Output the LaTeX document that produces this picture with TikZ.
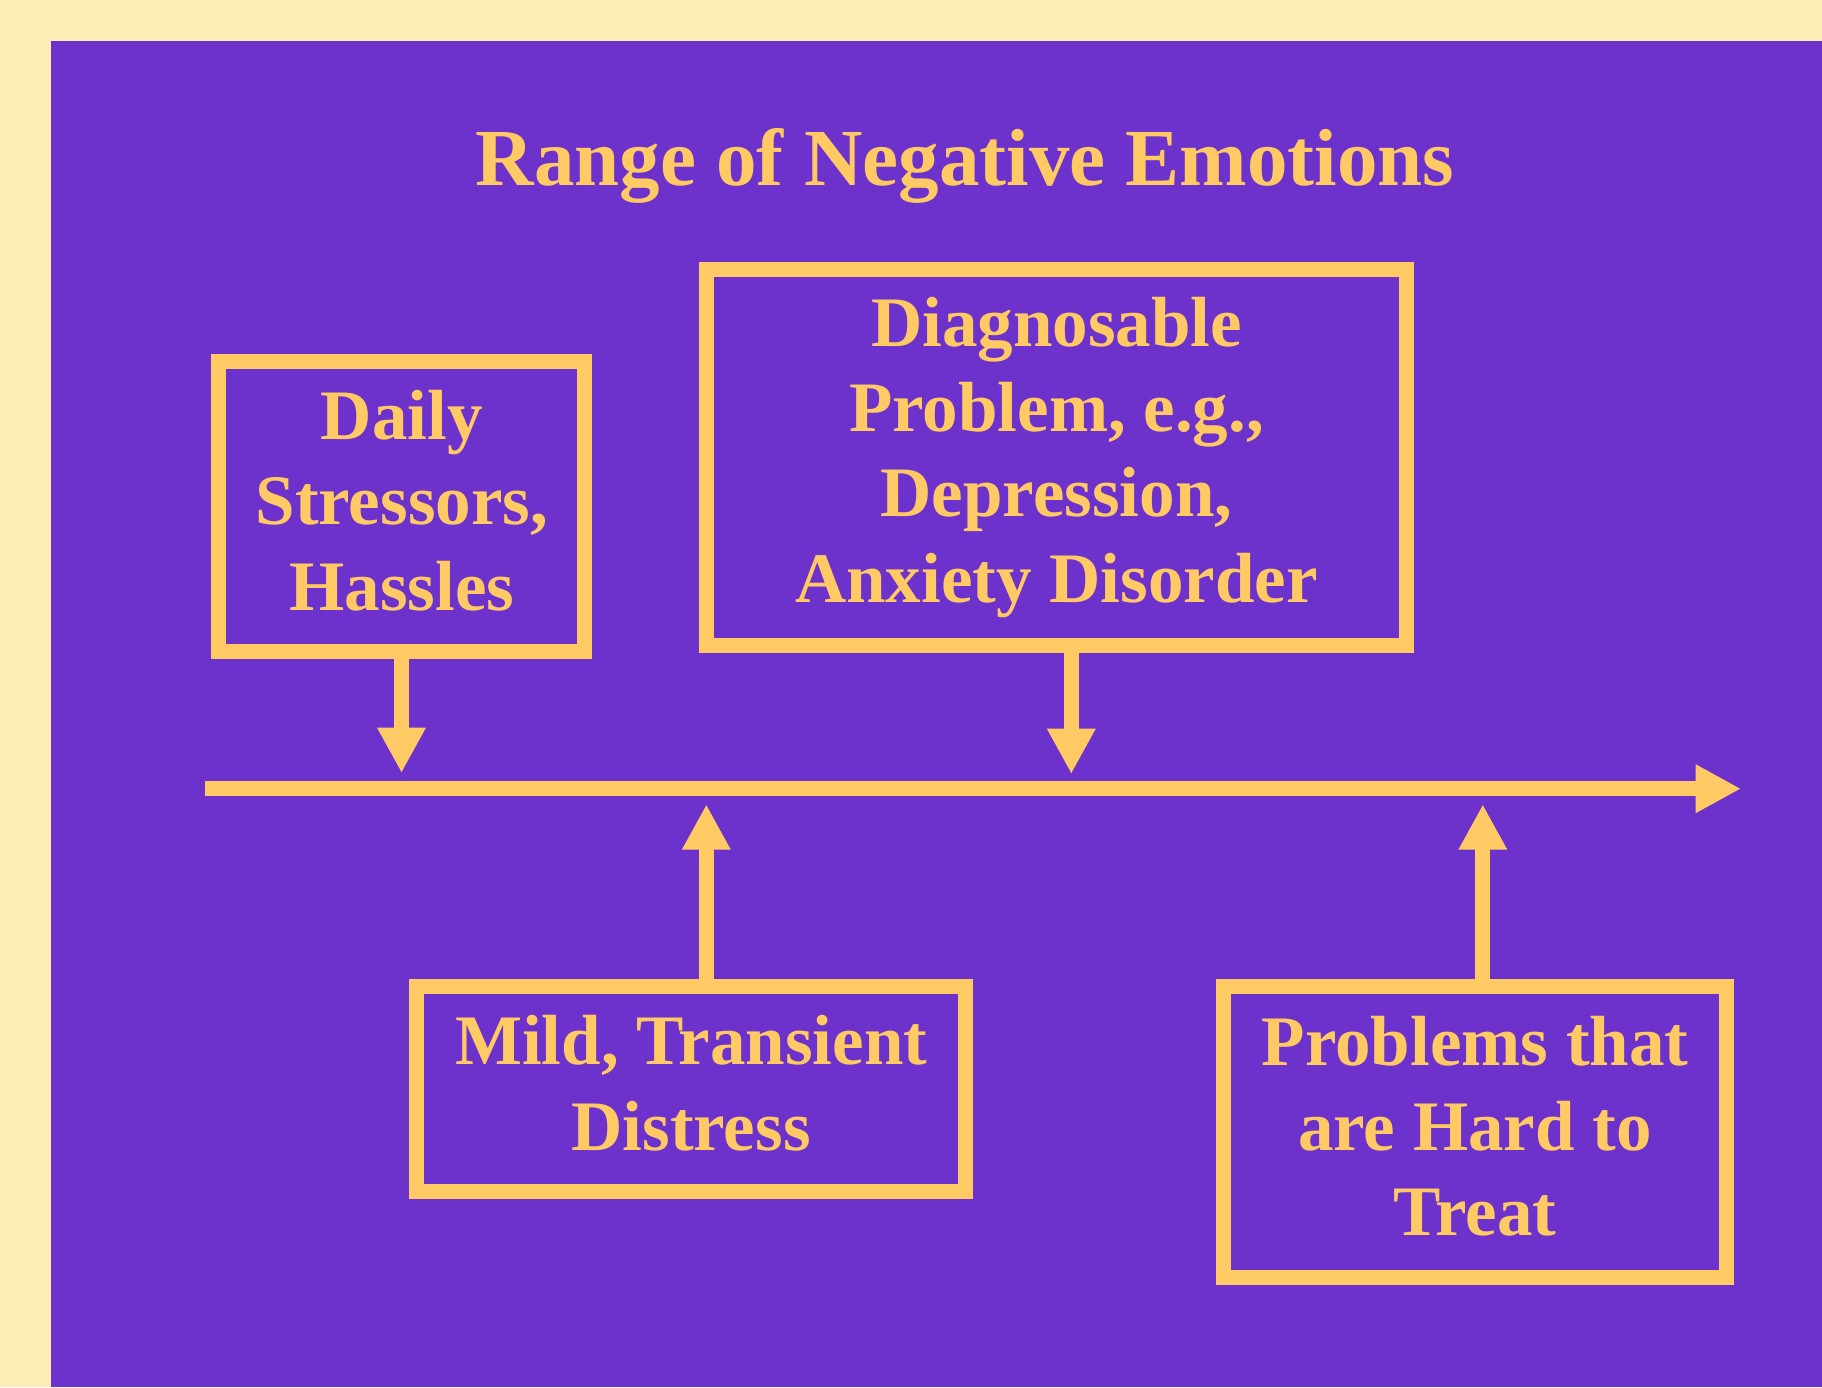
\documentclass[tikz,border=0pt]{standalone}
\usepackage{fontspec}
\setmainfont{Liberation Serif}
\usetikzlibrary{arrows.meta}
\definecolor{bgc}{RGB}{255,237,184}
\definecolor{pur}{RGB}{110,50,204}
\definecolor{gold}{RGB}{255,202,100}
\begin{document}
\begin{tikzpicture}[x=1pt,y=-1pt,
  box/.style={draw=gold, line width=15pt, inner sep=0pt},
  boxtext/.style={text=gold, font=\fontsize{71}{85.3}\selectfont\bfseries, align=center, inner sep=0pt},
  arr/.style={draw=gold, line width=15pt, -{Triangle[width=45.4pt,length=45.4pt]}}]
\fill[bgc] (0,0) rectangle (1822,1387);
\fill[pur] (51,41) rectangle (1822,1387);
\useasboundingbox (0,0) rectangle (1822,1387);
\node[text=gold, font=\fontsize{81}{95}\selectfont\bfseries, anchor=base] (title) at (965,185) {Range of Negative Emotions};
\node[box, minimum width=366pt, minimum height=290.6pt] (daily) at (401.8,506.5) {};
\node[boxtext, yshift=6pt] (dailyt) at (daily.center) {Daily\\Stressors,\\Hassles};
\node[box, minimum width=700.9pt, minimum height=376pt] (diag) at (1056.5,457.8) {};
\node[boxtext, yshift=0.5pt] (diagt) at (diag.center) {Diagnosable\\Problem, e.g.,\\Depression,\\Anxiety Disorder};
\node[box, minimum width=548.8pt, minimum height=205pt] (mild) at (691.1,1089.3) {};
\node[boxtext, yshift=6pt] (mildt) at (mild.center) {Mild, Transient\\Distress};
\node[box, minimum width=503pt, minimum height=290.7pt] (hard) at (1475,1132.2) {};
\node[boxtext, yshift=6pt] (hardt) at (hard.center) {Problems that\\are Hard to\\Treat};
\coordinate (axs) at (204.5,788.7);
\coordinate (axe) at (1741,788.7);
\draw[arr] (axs) -- (axe);
\coordinate (t1) at (401.5,773);
\coordinate (t2) at (1071.3,774);
\coordinate (t3) at (706.3,804.3);
\coordinate (t4) at (1482.8,804.3);
\draw[arr] (t1 |- daily.south) -- (t1);
\draw[arr] (t2 |- diag.south) -- (t2);
\draw[arr] (t3 |- mild.north) -- (t3);
\draw[arr] (t4 |- hard.north) -- (t4);
\end{tikzpicture}
\end{document}
